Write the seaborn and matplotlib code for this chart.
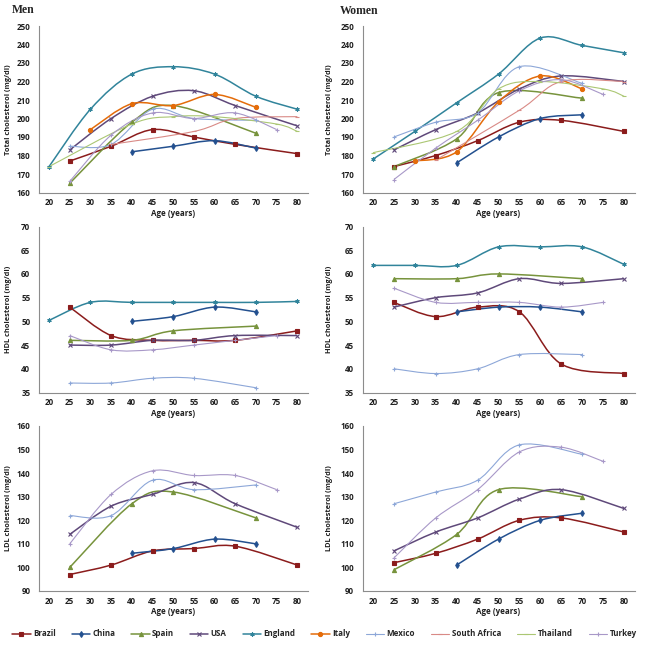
import numpy as np
import matplotlib
matplotlib.use("Agg")
import matplotlib.pyplot as plt
import seaborn as sns
from matplotlib.path import Path
from matplotlib.patches import PathPatch
from matplotlib.lines import Line2D


COUNTRIES = ["Brazil", "China", "Spain", "USA", "England", "Italy",
             "Mexico", "South Africa", "Thailand", "Turkey"]
COLORS = ["#8B1C1C", "#23508F", "#77933C", "#5F497A", "#31849B", "#E46C0A",
          "#8DA7D8", "#D98A86", "#ABC773", "#A898C8"]
MARKERS = ["s", "d", "^", "x", (6, 2, 0), "o", "+", "_", "_", "+"]
AGE_TICKS = [20, 25, 30, 35, 40, 45, 50, 55, 60, 65, 70, 75, 80]

# Men - total cholesterol (mg/dl)
MEN_TOTAL = {
    "Brazil": ([25, 35, 45, 55, 65, 80], [177, 185, 194, 190, 186, 181]),
    "China": ([40, 50, 60, 70], [182, 185, 188, 184]),
    "Spain": ([25, 40, 50, 70], [165, 198, 207, 192]),
    "USA": ([25, 35, 45, 55, 65, 80], [183, 200, 212, 215, 207, 196]),
    "England": ([20, 30, 40, 50, 60, 70, 80], [174, 205, 224, 228, 224, 212, 205]),
    "Italy": ([30, 40, 50, 60, 70], [194, 208, 207, 213, 206]),
    "Mexico": ([25, 35, 45, 55, 70], [185, 186, 205, 200, 199]),
    "South Africa": ([35, 55, 65, 80], [186, 193, 200, 201]),
    "Thailand": ([20, 40, 50, 60, 75, 80], [174, 197, 201, 201, 197, 193]),
    "Turkey": ([25, 35, 45, 55, 65, 75], [166, 191, 203, 200, 203, 194]),
}

# Women - total cholesterol (mg/dl)
WOMEN_TOTAL = {
    "Brazil": ([25, 35, 45, 55, 65, 80], [174, 180, 188, 198, 199, 193]),
    "China": ([40, 50, 60, 70], [176, 190, 200, 202]),
    "Spain": ([25, 40, 50, 70], [174, 189, 214, 211]),
    "USA": ([25, 35, 45, 55, 65, 80], [183, 194, 203, 216, 223, 220]),
    "England": ([20, 30, 40, 50, 60, 70, 80], [178, 193, 208.5, 224, 243.5, 239.5, 235.5]),
    "Italy": ([30, 40, 50, 60, 70], [177, 182, 209, 223, 216]),
    "Mexico": ([25, 35, 45, 55, 70], [190, 198, 203, 228, 219]),
    "South Africa": ([35, 55, 65, 80], [177.5, 204.5, 220, 220]),
    "Thailand": ([20, 40, 50, 60, 75, 80], [181.5, 193, 216, 220, 216, 212]),
    "Turkey": ([25, 35, 45, 55, 65, 75], [167, 184, 199, 215, 221, 213]),
}

# Men - HDL cholesterol (mg/dl)
MEN_HDL = {
    "Brazil": ([25, 35, 45, 55, 65, 80], [53, 47, 46, 46, 46, 48]),
    "China": ([40, 50, 60, 70], [50, 51, 53, 52]),
    "Spain": ([25, 40, 50, 70], [46, 46, 48, 49]),
    "USA": ([25, 35, 45, 55, 65, 80], [45, 45, 46, 46, 47, 47]),
    "England": ([20, 30, 40, 50, 60, 70, 80], [50.2, 54, 54, 54, 54, 54, 54.2]),
    "Mexico": ([25, 35, 45, 55, 70], [37, 37, 38, 38, 36]),
    "Turkey": ([25, 35, 45, 55, 65, 75], [47, 44, 44, 45, 46, 47]),
}

# Women - HDL cholesterol (mg/dl)
WOMEN_HDL = {
    "Brazil": ([25, 35, 45, 55, 65, 80], [54, 51, 53, 52, 41, 39]),
    "China": ([40, 50, 60, 70], [52, 53, 53, 52]),
    "Spain": ([25, 40, 50, 70], [59, 59, 60, 59]),
    "USA": ([25, 35, 45, 55, 65, 80], [53, 55, 56, 59, 58, 59]),
    "England": ([20, 30, 40, 50, 60, 70, 80], [61.8, 61.8, 61.8, 65.7, 65.7, 65.7, 62]),
    "Mexico": ([25, 35, 45, 55, 70], [40, 39, 40, 43, 43]),
    "Turkey": ([25, 35, 45, 55, 65, 75], [57, 54, 54, 54, 53, 54]),
}

# Men - LDL cholesterol (mg/dl)
MEN_LDL = {
    "Brazil": ([25, 35, 45, 55, 65, 80], [97, 101, 107, 108, 109, 101]),
    "China": ([40, 50, 60, 70], [106, 108, 112, 110]),
    "Spain": ([25, 40, 50, 70], [100, 127, 132, 121]),
    "USA": ([25, 35, 45, 55, 65, 80], [114, 126, 131, 136, 127, 117]),
    "Mexico": ([25, 35, 45, 55, 70], [122, 122, 137, 133, 135]),
    "Turkey": ([25, 35, 45, 55, 65, 75], [110, 131, 141, 139, 139, 133]),
}

# Women - LDL cholesterol (mg/dl)
WOMEN_LDL = {
    "Brazil": ([25, 35, 45, 55, 65, 80], [102, 106, 112, 120, 121, 115]),
    "China": ([40, 50, 60, 70], [101, 112, 120, 123]),
    "Spain": ([25, 40, 50, 70], [99, 114, 133, 130]),
    "USA": ([25, 35, 45, 55, 65, 80], [107, 115, 121, 129, 133, 125]),
    "Mexico": ([25, 35, 45, 55, 70], [127, 132, 137, 152, 148]),
    "Turkey": ([25, 35, 45, 55, 65, 75], [104, 121, 133, 149, 151, 145]),
}

W, H = 649, 649
LEFT_X, RIGHT_X = 38.7, 362.5
LEFT_W, RIGHT_W = 269.0, 272.0
ROWS = [(26.0, 192.5), (226.5, 392.5), (426.0, 591.0)]
LIGHT = {"Mexico", "South Africa", "Thailand", "Turkey"}


def smooth_path(ages, vals):
    """Bezier path through the points (Excel-like smoothed line)."""
    pts = np.column_stack([ages, vals]).astype(float)
    n = len(pts)
    verts = [pts[0]]
    codes = [Path.MOVETO]
    for i in range(n - 1):
        p0 = pts[max(i - 1, 0)]
        p1 = pts[i]
        p2 = pts[i + 1]
        p3 = pts[min(i + 2, n - 1)]
        verts += [p1 + (p2 - p0) / 6.0, p2 - (p3 - p1) / 6.0, p2]
        codes += [Path.CURVE4] * 3
    return Path(verts, codes)


def draw_panel(ax, data, ylim, ystep, ylabel, label_x):
    for name, color, marker in zip(COUNTRIES, COLORS, MARKERS):
        if name not in data:
            continue
        ages, vals = data[name]
        lw = 0.8 if name in LIGHT else 1.1
        ax.add_patch(PathPatch(smooth_path(ages, vals), facecolor="none",
                               edgecolor=color, lw=lw, zorder=2))
        sns.lineplot(x=ages, y=vals, ax=ax, color=color, marker=marker,
                     markersize=3, markeredgecolor=color, markeredgewidth=0.8,
                     linestyle="none", zorder=3)

    ax.set_xlim(17.5, 82.5)
    ax.set_ylim(*ylim)
    ax.set_yticks(np.arange(ylim[0], ylim[1] + 1, ystep))
    ax.set_xticks(AGE_TICKS)
    ax.set_xticks(np.arange(17.5, 83, 5), minor=True)
    ax.tick_params(axis="x", which="major", length=0, pad=4)
    ax.tick_params(axis="x", which="minor", length=3, width=0.6, color="#8C8C8C")
    ax.tick_params(axis="y", length=3, width=0.6, color="#8C8C8C", pad=3)
    for lab in ax.get_xticklabels() + ax.get_yticklabels():
        lab.set_fontsize(5.8)
        lab.set_fontweight("bold")
        lab.set_color("#202020")
    ax.set_xlabel("Age (years)", fontsize=5.8, fontweight="bold", color="#202020")
    ax.set_ylabel(ylabel, fontsize=5.3, fontweight="bold", color="#202020")
    ax.xaxis.set_label_coords(0.5, -0.1)
    ax.yaxis.set_label_coords(label_x, 0.5)
    for side in ("left", "bottom"):
        ax.spines[side].set_color("#8C8C8C")
        ax.spines[side].set_linewidth(0.8)
    sns.despine(ax=ax)
    ax.grid(False)


sns.set_style("white")
plt.rcParams["font.family"] = ["Open Sans", "DejaVu Sans"]

fig = plt.figure(figsize=(W / 100, H / 100), dpi=100)

panels = [
    (MEN_TOTAL, WOMEN_TOTAL, (160, 250), 10, "Total cholesterol (mg/dl)"),
    (MEN_HDL, WOMEN_HDL, (35, 70), 5, "HDL cholesterol (mg/dl)"),
    (MEN_LDL, WOMEN_LDL, (90, 160), 10, "LDL cholesterol (mg/dl)"),
]

for (top, bottom), (men, women, ylim, ystep, ylabel) in zip(ROWS, panels):
    h = (bottom - top) / H
    y0 = 1 - bottom / H
    ax_m = fig.add_axes([LEFT_X / W, y0, LEFT_W / W, h])
    draw_panel(ax_m, men, ylim, ystep, ylabel, -0.10)
    ax_w = fig.add_axes([RIGHT_X / W, y0, RIGHT_W / W, h])
    draw_panel(ax_w, women, ylim, ystep, ylabel, -0.11)

fig.text(12 / W, 1 - 10 / H, "Men", fontsize=8.5, fontweight="bold",
         family="Liberation Serif", va="center", ha="left")
fig.text(340 / W, 1 - 11 / H, "Women", fontsize=8.5, fontweight="bold",
         family="Liberation Serif", va="center", ha="left")

handles = [Line2D([0], [0], color=c, marker=m, markersize=3, markeredgecolor=c,
                  markeredgewidth=0.8, lw=1.1 if n not in LIGHT else 0.8)
           for n, c, m in zip(COUNTRIES, COLORS, MARKERS)]
fig.legend(handles, COUNTRIES, loc="center", bbox_to_anchor=(0.5, 1 - 634 / H),
           ncol=10, frameon=False, handlelength=2.25, handletextpad=0.3,
           columnspacing=2.0, prop={"size": 5.8, "weight": "bold"})

fig.savefig("out.png", dpi=100)
